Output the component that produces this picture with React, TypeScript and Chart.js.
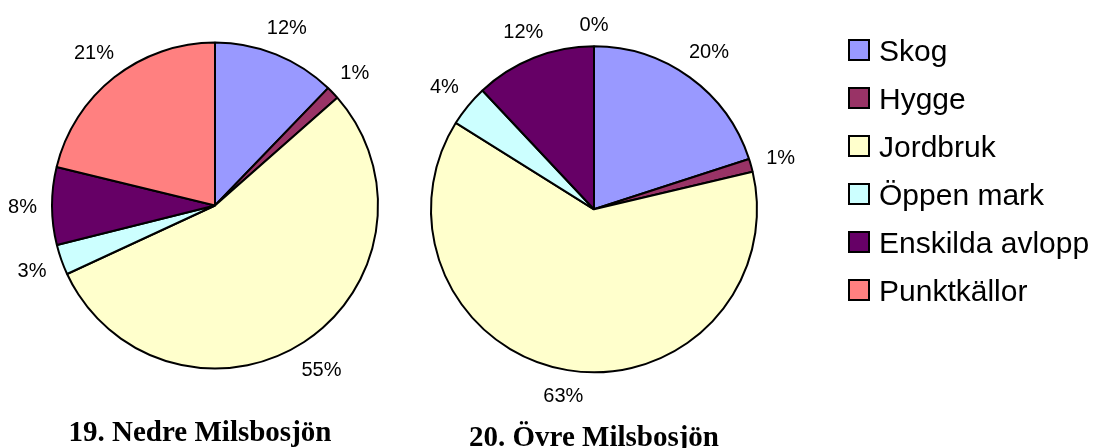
import React, { useEffect, useRef } from "react";
import { Chart, registerables } from "chart.js";

Chart.register(...registerables);

// ---- data ----
const categories = ["Skog", "Hygge", "Jordbruk", "Öppen mark", "Enskilda avlopp", "Punktkällor"];
const nedreValues = [12.2, 1.3, 54.6, 3.0, 7.7, 21.2];
const ovreValues = [20.0, 1.3, 62.6, 4.1, 12.0, 0];
const sliceColors = ["#9999FF", "#993366", "#FFFFCC", "#CCFFFF", "#660066", "#FF8080"];
const chartTitles = ["19. Nedre Milsbosjön", "20. Övre Milsbosjön"];

const SANS = '"Liberation Sans", Arial, sans-serif';
const SERIF = '"Liberation Serif", "Times New Roman", serif';

const pctLabelPlugin = {
  id: "pctLabels",
  afterDatasetsDraw(chart: any) {
    const ctx = chart.ctx;
    const meta = chart.getDatasetMeta(0);
    const data = chart.data.datasets[0].data as number[];
    const total = data.reduce((a, b) => a + b, 0);
    const fs = 20;
    const capH = 0.716 * fs;
    const gap = 15;
    ctx.save();
    ctx.font = `${fs}px ${SANS}`;
    ctx.fillStyle = "#000";
    ctx.textAlign = "center";
    ctx.textBaseline = "alphabetic";
    meta.data.forEach((arc: any, i: number) => {
      const p = arc.getProps(["x", "y", "startAngle", "endAngle", "outerRadius"], true);
      const mid = (p.startAngle + p.endAngle) / 2;
      const text = Math.round((data[i] / total) * 100) + "%";
      const w = ctx.measureText(text).width;
      const d = p.outerRadius + gap + Math.abs(Math.cos(mid)) * w / 2 + Math.abs(Math.sin(mid)) * capH / 2;
      const cx = p.x + Math.cos(mid) * d;
      const cy = p.y + Math.sin(mid) * d;
      ctx.fillText(text, cx, cy + capH / 2);
    });
    ctx.restore();
  },
};

const captionPlugin = {
  id: "caption",
  afterDraw(chart: any, _args: any, opts: any) {
    if (!opts || !opts.text) return;
    const ctx = chart.ctx;
    ctx.save();
    ctx.font = `bold 29px ${SERIF}`;
    ctx.fillStyle = "#000";
    ctx.textAlign = "center";
    ctx.textBaseline = "alphabetic";
    ctx.fillText(opts.text, opts.x, opts.y);
    ctx.restore();
  },
};

const sideLegendPlugin = {
  id: "sideLegend",
  afterDraw(chart: any, _args: any, opts: any) {
    if (!opts || !opts.show) return;
    const ctx = chart.ctx;
    const labels = chart.data.labels as string[];
    const colors = chart.data.datasets[0].backgroundColor as string[];
    const fs = 30;
    const capH = 0.716 * fs;
    const box = 22;
    ctx.save();
    ctx.font = `${fs}px ${SANS}`;
    ctx.textAlign = "left";
    ctx.textBaseline = "alphabetic";
    labels.forEach((lab, i) => {
      const cy = opts.top + i * opts.step;
      const by = cy - box / 2;
      ctx.fillStyle = colors[i];
      ctx.fillRect(opts.boxX, by, box, box);
      ctx.lineWidth = 2;
      ctx.strokeStyle = "#000";
      ctx.strokeRect(opts.boxX + 1, by + 1, box - 2, box - 2);
      ctx.fillStyle = "#000";
      ctx.fillText(lab, opts.textX, cy + capH / 2);
    });
    ctx.restore();
  },
};

function makeConfig(values: number[], padding: any, plugOpts: any) {
  return {
    type: "pie" as const,
    data: {
      labels: categories,
      datasets: [
        {
          data: values,
          backgroundColor: sliceColors,
          borderColor: "#000000",
          borderWidth: 2,
          radius: 163,
        },
      ],
    },
    options: {
      responsive: false,
      animation: false as const,
      layout: { padding },
      plugins: {
        legend: { display: false },
        tooltip: { enabled: false },
        ...plugOpts,
      },
    },
    plugins: [pctLabelPlugin, captionPlugin, sideLegendPlugin],
  };
}

export default function App() {
  const refA = useRef<HTMLCanvasElement>(null);
  const refB = useRef<HTMLCanvasElement>(null);

  useEffect(() => {
    const a = new Chart(
      refA.current!,
      makeConfig(nedreValues, { left: 0, right: 0, top: 0, bottom: 37 }, {
        caption: { text: chartTitles[0], x: 200, y: 441 },
        sideLegend: { show: false },
      }) as any
    );
    const b = new Chart(
      refB.current!,
      makeConfig(ovreValues, { left: 0, right: 287, top: 0, bottom: 29.4 }, {
        caption: { text: chartTitles[1], x: 215, y: 446 },
        sideLegend: { show: true, top: 50, step: 48, boxX: 469, textX: 500 },
      }) as any
    );
    return () => {
      a.destroy();
      b.destroy();
    };
  }, []);

  return (
    <div style={{ position: "fixed", left: 0, top: 0, width: 1096, height: 448, background: "#fff" }}>
      <canvas ref={refA} width={430} height={448} style={{ position: "absolute", left: 0, top: 0 }} />
      <canvas ref={refB} width={717} height={448} style={{ position: "absolute", left: 379, top: 0 }} />
    </div>
  );
}
